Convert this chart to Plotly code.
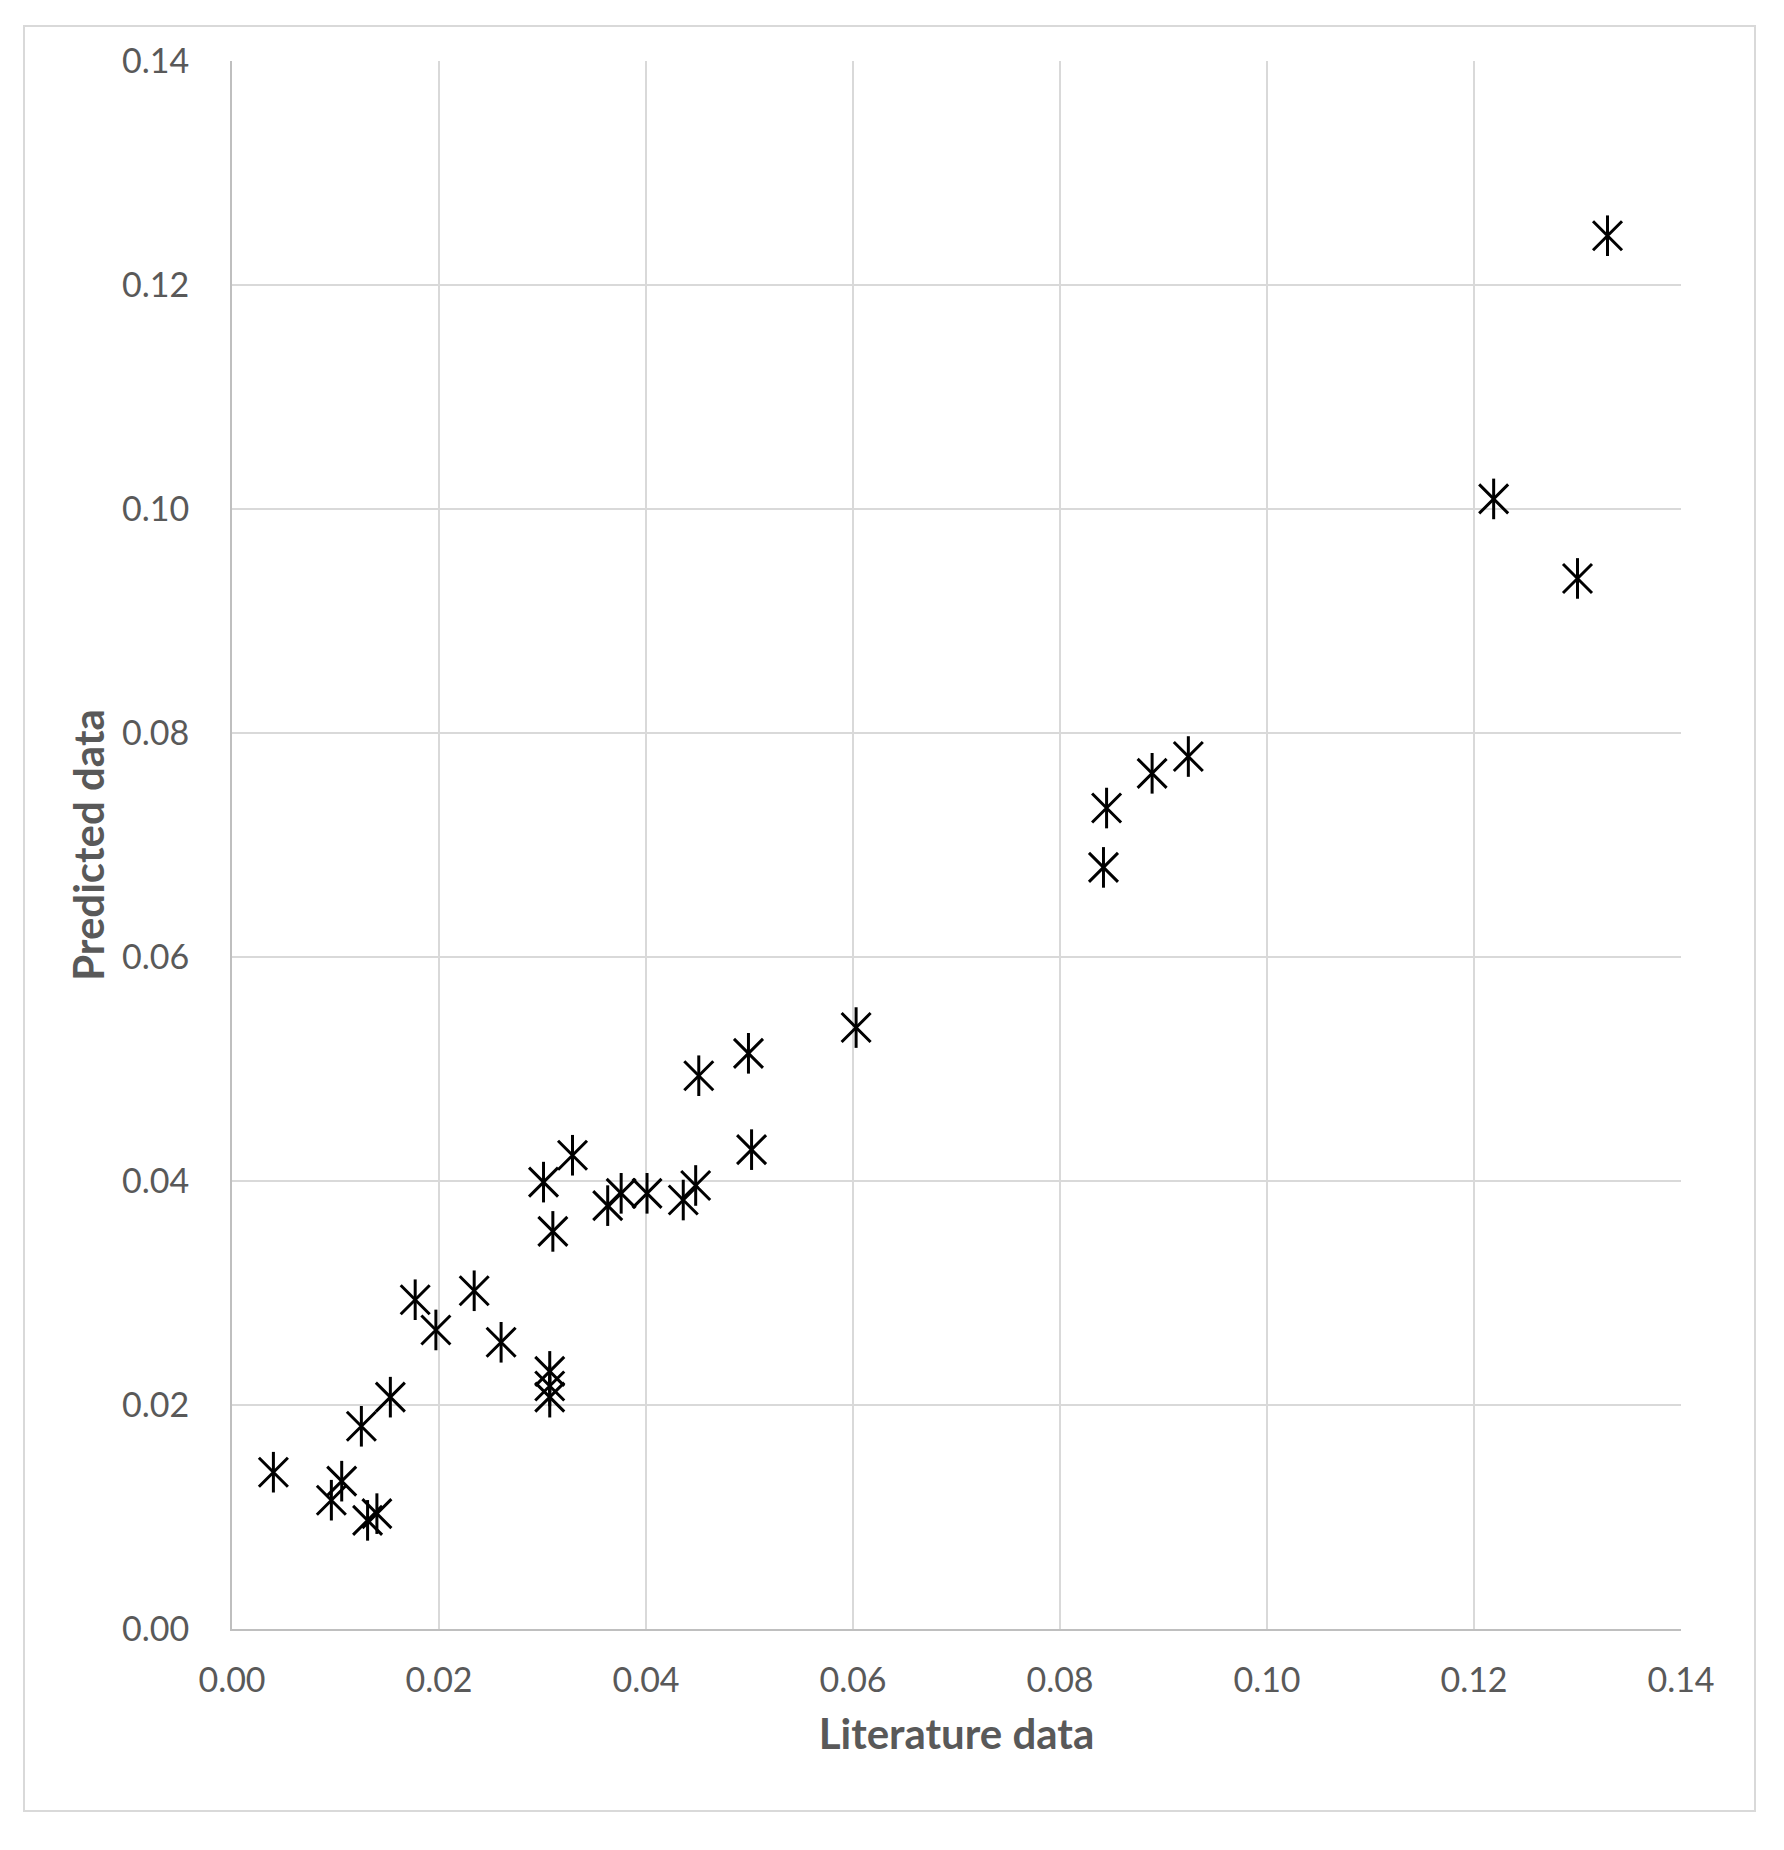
import plotly.graph_objects as go

literature = [0.0040, 0.0106, 0.0096, 0.0131, 0.0140, 0.0125, 0.0153, 0.0177, 0.0197,
              0.0234, 0.0260, 0.0307, 0.0307, 0.0307, 0.0301, 0.0329, 0.0310, 0.0363,
              0.0376, 0.0401, 0.0436, 0.0448, 0.0502, 0.0451, 0.0499, 0.0603, 0.0845,
              0.0842, 0.0889, 0.0924, 0.1219, 0.1300, 0.1329]
predicted = [0.0140, 0.0132, 0.0115, 0.0097, 0.0103, 0.0181, 0.0207, 0.0294, 0.0267,
             0.0302, 0.0256, 0.0230, 0.0217, 0.0207, 0.0399, 0.0423, 0.0355, 0.0378,
             0.0389, 0.0389, 0.0383, 0.0396, 0.0428, 0.0494, 0.0514, 0.0537, 0.0733,
             0.0680, 0.0764, 0.0779, 0.1009, 0.0938, 0.1244]
tick_vals = [0.00, 0.02, 0.04, 0.06, 0.08, 0.10, 0.12, 0.14]

FONT = "Lato, 'Open Sans', sans-serif"
GREY_TXT = "#595959"

fig = go.Figure()
for sym in ["x-thin-open", "line-ns-open"]:
    fig.add_trace(go.Scatter(
        x=literature, y=predicted, mode="markers", showlegend=False,
        marker=dict(symbol=sym, size=29, color="black",
                    line=dict(color="black", width=3)),
    ))

axis_common = dict(
    range=[0, 0.14], tickvals=tick_vals, tickformat=".2f",
    showgrid=True, gridcolor="#d9d9d9", gridwidth=2,
    showline=True, linecolor="#bfbfbf", linewidth=2, mirror=False,
    zeroline=False, ticks="",
    tickfont=dict(family=FONT, size=34, color=GREY_TXT),
)

fig.update_xaxes(**axis_common, ticklabelstandoff=20,
                 title=dict(text="<b>Literature data</b>", standoff=22,
                            font=dict(family=FONT, size=42, color=GREY_TXT)))
fig.update_yaxes(**axis_common, ticklabelstandoff=34,
                 title=dict(text="<b>Predicted data</b>", standoff=4,
                            font=dict(family=FONT, size=42, color=GREY_TXT)))

fig.add_shape(type="rect", xref="paper", yref="paper",
              x0=-(232 - 24) / 1449, x1=1 + (1755 - 1681) / 1449,
              y0=-(1811 - 1629) / 1568, y1=1 + (61 - 26) / 1568,
              line=dict(color="#d9d9d9", width=2), layer="below")

fig.update_layout(
    width=1776, height=1842,
    margin=dict(l=224, r=103, t=53, b=221),
    paper_bgcolor="white", plot_bgcolor="white",
)

fig.write_html("out.html")
